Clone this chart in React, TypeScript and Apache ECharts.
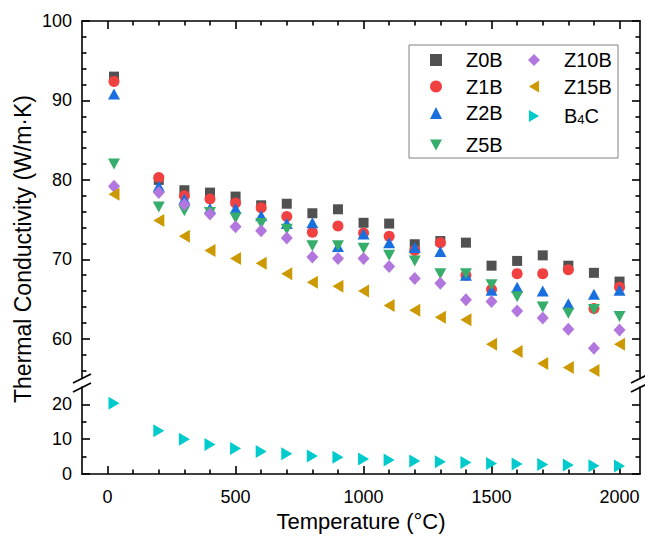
import React, { useEffect, useRef } from "react";
import * as echarts from "echarts";

const temps = [25, 200, 300, 400, 500, 600, 700, 800, 900, 1000, 1100, 1200, 1300, 1400, 1500, 1600, 1700, 1800, 1900, 2000];
const z0b = [93.0, 80.0, 78.7, 78.4, 77.9, 76.8, 77.0, 75.8, 76.3, 74.6, 74.5, 71.9, 72.3, 72.1, 69.2, 69.8, 70.5, 69.2, 68.3, 67.2];
const z1b = [92.4, 80.3, 78.0, 77.6, 77.1, 76.5, 75.4, 73.4, 74.2, 73.3, 72.9, 71.1, 72.1, 68.0, 66.2, 68.2, 68.2, 68.7, 63.8, 66.5];
const z2b = [90.8, 79.2, 77.6, 76.4, 76.4, 75.5, 74.5, 74.6, 71.6, 73.2, 72.1, 71.5, 71.0, 68.0, 66.1, 66.5, 66.0, 64.4, 65.6, 66.1];
const z5b = [82.0, 76.6, 76.1, 75.9, 75.2, 74.5, 73.8, 71.7, 71.7, 71.4, 70.5, 69.8, 68.2, 68.2, 66.8, 65.3, 64.0, 63.2, 63.7, 62.8];
const z10b = [79.2, 78.4, 76.9, 75.7, 74.1, 73.6, 72.7, 70.3, 70.1, 70.1, 69.1, 67.6, 67.0, 64.9, 64.7, 63.5, 62.6, 61.2, 58.8, 61.1];
const z15b = [78.2, 74.9, 72.9, 71.1, 70.1, 69.5, 68.2, 67.1, 66.6, 66.0, 64.2, 63.6, 62.7, 62.4, 59.3, 58.4, 56.9, 56.4, 56.0, 59.3];
const b4c = [20.3, 12.4, 10.0, 8.5, 7.3, 6.5, 5.8, 5.2, 4.8, 4.3, 4.0, 3.7, 3.5, 3.3, 3.0, 2.9, 2.7, 2.6, 2.4, 2.3];

const xMajor = [0, 500, 1000, 1500, 2000];
const xMinor = [100, 200, 300, 400, 600, 700, 800, 900, 1100, 1200, 1300, 1400, 1600, 1700, 1800, 1900];
const yUpperMajor = [60, 70, 80, 90, 100];
const yUpperMinor = [56, 58, 62, 64, 66, 68, 72, 74, 76, 78, 82, 84, 86, 88, 92, 94, 96, 98];
const yLowerMajor = [0, 10, 20];
const yLowerMinor = [5, 15];

const FONT = "'Liberation Sans', Arial, Helvetica, sans-serif";
const LW = 1.6;

const TRI_DOWN = "path://M0,0 L12,0 L6,11 Z";
const TRI_LEFT = "path://M11,0 L11,13 L0,6.5 Z";
const TRI_RIGHT = "path://M0,0 L0,13 L11,6.5 Z";

function axisCommon(ticks: number[], len: number, showLine: boolean, showLabel: boolean, labelTicks?: number[], margin = 10) {
  return {
    type: "value",
    axisLine: { show: showLine, onZero: false, lineStyle: { color: "#000", width: LW } },
    axisTick: { show: true, inside: true, length: len, customValues: ticks, lineStyle: { color: "#000", width: LW } },
    axisLabel: showLabel
      ? { show: true, customValues: labelTicks || ticks, margin, color: "#000", fontSize: 18, fontFamily: FONT, formatter: (v: number) => String(v) }
      : { show: false },
    splitLine: { show: false },
    minorTick: { show: false },
  };
}

export default function App() {
  const ref = useRef<HTMLDivElement>(null);
  useEffect(() => {
    if (!ref.current) return;
    const chart = echarts.init(ref.current, null, { renderer: "svg" });
    const xr = { min: -100, max: 2080 };
    const yu = { min: 55, max: 100 };
    const yl = { min: 0, max: 25 };
    const pts = (vals: number[]) => temps.map((t, i) => [t, vals[i]]);
    const mk = (name: string, vals: number[], color: string, symbol: string, size: any, xi: number, yi: number) => ({
      type: "scatter",
      name,
      data: pts(vals),
      xAxisIndex: xi,
      yAxisIndex: yi,
      symbol,
      symbolSize: size,
      itemStyle: { color, opacity: 1 },
      emphasis: { disabled: true },
    });
    const legendBase = {
      orient: "vertical",
      padding: 0,
      itemWidth: 12,
      itemHeight: 12,
      itemGap: 6.5,
      selectedMode: false,
      textStyle: {
        fontFamily: FONT,
        fontSize: 20,
        lineHeight: 20,
        color: "#000",
        padding: [0, 0, 0, 19],
        rich: { sub: { fontFamily: FONT, fontSize: 13, lineHeight: 20, verticalAlign: "bottom", padding: [10, 0, 0, 0] } },
      },
      formatter: (n: string) => (n === "B4C" ? "B{sub|4}C" : n),
    };
    chart.setOption({
      animation: false,
      backgroundColor: "#fff",
      grid: [
        { left: 82, right: 5, top: 21, height: 357.5, outerBoundsMode: "none" },
        { left: 82, right: 5, top: 387, height: 87, outerBoundsMode: "none" },
      ],
      xAxis: [
        { ...axisCommon(xMajor, 8, true, false), ...xr, gridIndex: 0, position: "top" },
        { ...axisCommon(xMinor, 4.5, false, false), ...xr, gridIndex: 0, position: "top" },
        {
          ...axisCommon(xMajor, 8, true, true, xMajor, 14),
          ...xr,
          gridIndex: 1,
          position: "bottom",
          name: "Temperature (°C)",
          nameLocation: "middle",
          nameGap: 36,
          nameTextStyle: { fontFamily: FONT, fontSize: 22, color: "#000" },
        },
        { ...axisCommon(xMinor, 4.5, false, false), ...xr, gridIndex: 1, position: "bottom" },
      ],
      yAxis: [
        { ...axisCommon(yUpperMajor, 8, true, true), ...yu, gridIndex: 0, position: "left" },
        { ...axisCommon(yUpperMinor, 4.5, false, false), ...yu, gridIndex: 0, position: "left" },
        { ...axisCommon(yUpperMajor, 8, true, false), ...yu, gridIndex: 0, position: "right" },
        { ...axisCommon(yUpperMinor, 4.5, false, false), ...yu, gridIndex: 0, position: "right" },
        { ...axisCommon(yLowerMajor, 8, true, true), ...yl, gridIndex: 1, position: "left" },
        { ...axisCommon(yLowerMinor, 4.5, false, false), ...yl, gridIndex: 1, position: "left" },
        { ...axisCommon(yLowerMajor, 8, true, false), ...yl, gridIndex: 1, position: "right" },
        { ...axisCommon(yLowerMinor, 4.5, false, false), ...yl, gridIndex: 1, position: "right" },
      ],
      legend: [
        { ...legendBase, left: 430, top: 50, data: ["Z0B", "Z1B", "Z2B"] },
        { ...legendBase, left: 430, top: 135, data: ["Z5B"] },
        { ...legendBase, left: 528, top: 50, data: ["Z10B", "Z15B", "B4C"] },
      ],
      series: [
        mk("Z0B", z0b, "#515151", "rect", [10, 10], 0, 0),
        mk("Z1B", z1b, "#F14040", "circle", 11, 0, 0),
        mk("Z2B", z2b, "#1A6FDF", "triangle", [12, 11], 0, 0),
        mk("Z5B", z5b, "#37AD6B", TRI_DOWN, [12, 11], 0, 0),
        mk("Z10B", z10b, "#B177DE", "diamond", [12, 13], 0, 0),
        mk("Z15B", z15b, "#CC9900", TRI_LEFT, [11, 13], 0, 0),
        mk("B4C", b4c, "#00CBCC", TRI_RIGHT, [11, 13], 2, 4),
      ],
      graphic: [
        { type: "rect", shape: { x: 409, y: 45, width: 209, height: 113 }, style: { fill: "none", stroke: "#808080", lineWidth: 1 }, z: 10 },
        {
          type: "text",
          x: 23,
          y: 249,
          rotation: Math.PI / 2,
          style: { text: "Thermal Conductivity (W/m·K)", fontFamily: FONT, fontSize: 23, fill: "#000", align: "center", verticalAlign: "middle" },
        },
        { type: "line", shape: { x1: 73, y1: 383, x2: 91, y2: 374 }, style: { stroke: "#000", lineWidth: LW } },
        { type: "line", shape: { x1: 73, y1: 392, x2: 91, y2: 383 }, style: { stroke: "#000", lineWidth: LW } },
        { type: "line", shape: { x1: 631, y1: 383, x2: 649, y2: 374 }, style: { stroke: "#000", lineWidth: LW } },
        { type: "line", shape: { x1: 631, y1: 392, x2: 649, y2: 383 }, style: { stroke: "#000", lineWidth: LW } },
      ],
    });
    return () => chart.dispose();
  }, []);
  return <div ref={ref} style={{ position: "fixed", left: 0, top: 0, width: 645, height: 538 }} />;
}
